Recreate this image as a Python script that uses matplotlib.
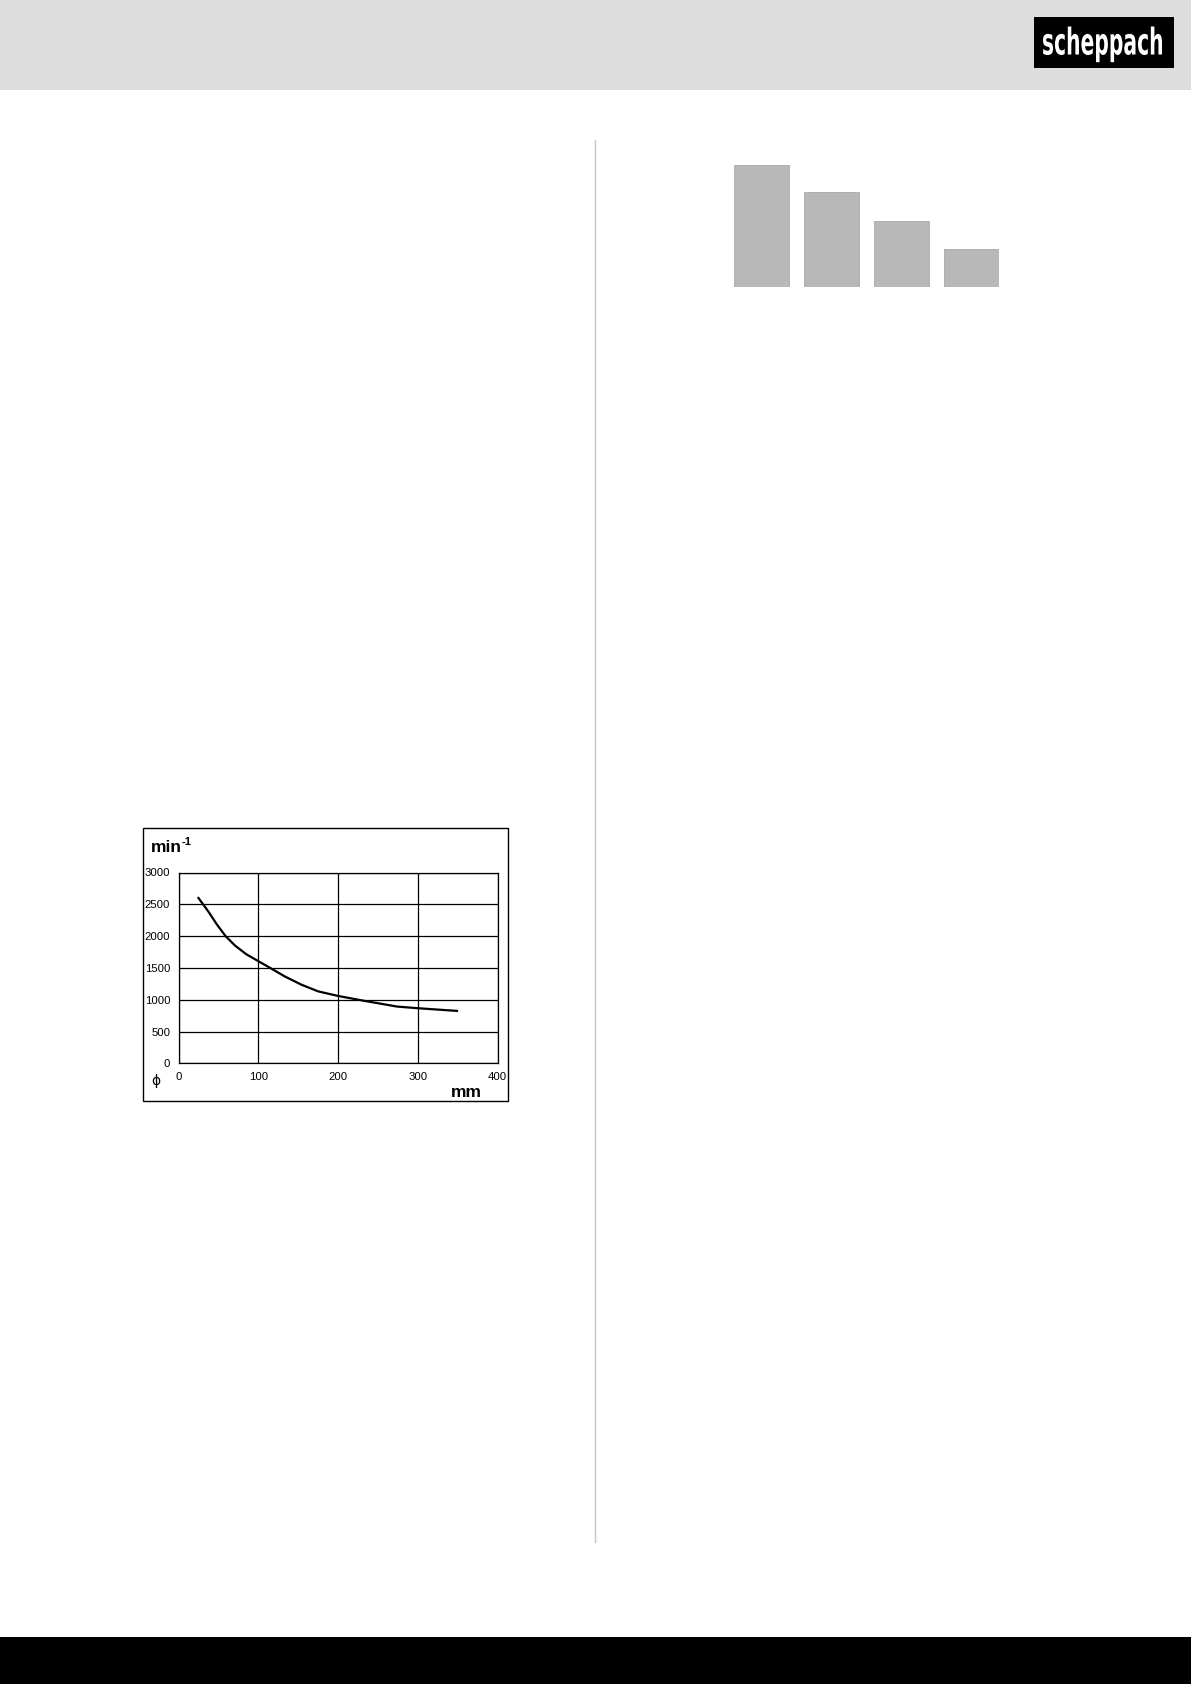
import numpy as np
import matplotlib.pyplot as plt
from matplotlib.patches import Rectangle, PathPatch
from matplotlib.lines import Line2D
from matplotlib.textpath import TextPath
from matplotlib.font_manager import FontProperties
from matplotlib.transforms import Affine2D

W, H = 1191, 1684

# speed curve: diameter (mm) vs speed (min^-1)
diam = [25, 37.5, 48, 59, 71, 85, 100, 115, 133, 154, 175, 200, 232, 274, 300, 349]
speed = [2600, 2385, 2185, 2000, 1850, 1715, 1607, 1500, 1368, 1237, 1132, 1060, 985, 893, 867, 825]
x_ticks = [0, 100, 200, 300, 400]
y_ticks = [0, 500, 1000, 1500, 2000, 2500, 3000]

# grey bars top right
bar_vals = [122, 95, 66, 38]


def fx(px):
    return px / W


def fy(py):
    return 1 - py / H


def add_rect(fig, x0, y0, x1, y1, **kw):
    fig.patches.append(Rectangle((fx(x0), fy(y1)), fx(x1) - fx(x0), fy(y0) - fy(y1),
                                 transform=fig.transFigure, **kw))


fig = plt.figure(figsize=(W / 100, H / 100), dpi=100)
# pixel coords, origin top-left
pix = Affine2D().scale(1 / W, -1 / H).translate(0, 1) + fig.transFigure

# header, logo, footer
add_rect(fig, 0, 0, W, 89.5, facecolor='#dddddd', edgecolor='none')
add_rect(fig, 1034, 16.7, 1174.3, 67.7, facecolor='black', edgecolor='none')

tp = TextPath((0, 0), 'scheppach', size=1,
              prop=FontProperties(family='DejaVu Sans', weight='bold'))
ext = tp.get_extents()
sx = (1162 - 1043) / ext.width
sy = 28 / 0.76
logo_tr = Affine2D().translate(-ext.x0, 0).scale(sx, -sy).translate(1043, 54.5) + pix
fig.patches.append(PathPatch(tp, transform=logo_tr, facecolor='white', edgecolor='none'))

add_rect(fig, 0, 1637, W, H, facecolor='black', edgecolor='none')

# column divider
fig.lines.append(Line2D([fx(595.3), fx(595.3)], [fy(140), fy(1541.7)],
                        transform=fig.transFigure, color='#c4c4c4', lw=1))

# bars
bw = 55 / 70
axb = fig.add_axes([fx(734), fy(287), fx(999) - fx(734), fy(165) - fy(287)])
axb.bar(range(len(bar_vals)), bar_vals, width=bw, color='#b8b8b8', edgecolor='#a8a8a8', lw=0.6)
axb.set_xlim(-bw / 2, len(bar_vals) - 1 + bw / 2)
axb.set_ylim(0, max(bar_vals))
axb.axis('off')

# chart frame
add_rect(fig, 143.3, 828.3, 508.3, 1101, facecolor='none', edgecolor='black', lw=1)

ax = fig.add_axes([fx(178.5), fy(1063.4), fx(497.7) - fx(178.5), fy(872.5) - fy(1063.4)])
ax.plot(diam, speed, color='black', lw=1.6, solid_joinstyle='round')
ax.set_xlim(0, 400)
ax.set_ylim(0, 3000)
ax.set_xticks(x_ticks)
ax.set_yticks(y_ticks)
ax.set_xticklabels([str(v) for v in x_ticks], fontsize=8.2, family='Liberation Sans')
ax.set_yticklabels([str(v) for v in y_ticks], fontsize=8.2, family='Liberation Sans')
ax.tick_params(length=0, pad=6)
ax.grid(True, color='black', lw=0.9)
for s in ax.spines.values():
    s.set_linewidth(0.9)

fig.text(fx(151), fy(852), 'min', fontsize=12.5, fontweight='bold',
         family='Liberation Sans', ha='left', va='baseline')
fig.text(fx(182), fy(845), '-1', fontsize=8, fontweight='bold',
         family='Liberation Sans', ha='left', va='baseline')
fig.text(fx(451), fy(1097), 'mm', fontsize=12.5, fontweight='bold',
         family='Liberation Sans', ha='left', va='baseline')
fig.text(fx(156), fy(1081), '\u03d5', fontsize=10, ha='center', va='center')

fig.savefig('out.png', dpi=100)
